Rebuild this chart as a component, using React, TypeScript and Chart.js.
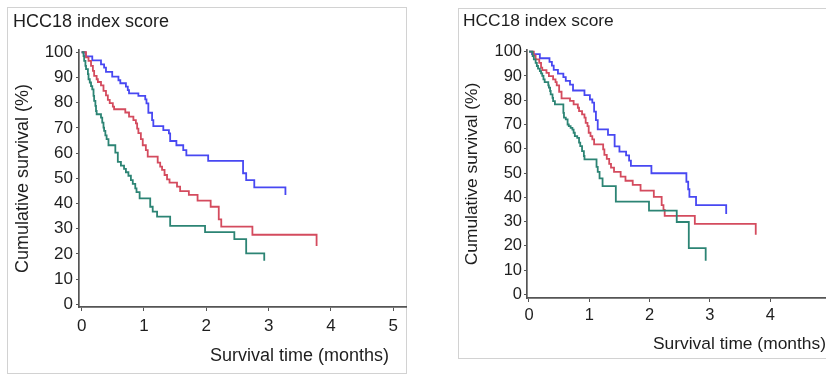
import React, { useEffect, useRef } from "react";
import { Chart, registerables } from "chart.js";

Chart.register(...registerables);

// ---------- text ----------
const panelTitle = "HCC18 index score";
const yAxisTitle = "Cumulative survival (%)";
const xAxisTitle = "Survival time (months)";

// ---------- ticks ----------
const yTickValues = [0, 10, 20, 30, 40, 50, 60, 70, 80, 90, 100];
const leftXTickValues = [0, 1, 2, 3, 4, 5];
const rightXTickValues = [0, 1, 2, 3, 4];

// ---------- colours ----------
const blueColor = "#4848f2";
const redColor = "#d44b5e";
const greenColor = "#2c8474";

// ---------- left panel data (months, survival %) ----------
const leftBlueTime = [0, 0.06, 0.17, 0.31, 0.36, 0.39, 0.49, 0.59, 0.62, 0.71, 0.74, 0.76, 0.91, 1.02, 1.04, 1.07, 1.13, 1.15, 1.31, 1.4, 1.42, 1.52, 1.63, 1.68, 2.03, 2.59, 2.64, 2.77, 3.27];
const leftBlueSurv = [100, 98.4, 96.8, 95.2, 93.9, 92.2, 90.3, 88.9, 87.7, 86.4, 85.0, 83.7, 82.7, 81.3, 79.7, 76.0, 73.1, 70.7, 69.1, 67.8, 64.8, 63.1, 61.2, 59.1, 56.9, 52.0, 49.3, 46.4, 43.4];

const leftRedTime = [0, 0.07, 0.11, 0.15, 0.18, 0.2, 0.24, 0.26, 0.31, 0.35, 0.39, 0.42, 0.45, 0.5, 0.52, 0.7, 0.76, 0.83, 0.87, 0.89, 0.91, 0.95, 0.98, 1.03, 1.06, 1.22, 1.26, 1.29, 1.33, 1.37, 1.41, 1.53, 1.58, 1.72, 1.86, 2.07, 2.2, 2.24, 2.74, 3.77];
const leftRedSurv = [100, 98.0, 96.6, 94.6, 92.6, 90.6, 89.3, 88.2, 86.9, 84.7, 82.9, 81.1, 79.8, 78.4, 77.4, 76.1, 74.5, 73.1, 71.8, 69.7, 67.9, 65.5, 63.1, 61.2, 58.6, 56.2, 54.6, 53.3, 51.3, 49.6, 48.3, 46.7, 44.9, 43.4, 41.1, 38.7, 33.7, 30.8, 27.6, 23.1];

const leftGreenTime = [0, 0.03, 0.04, 0.06, 0.07, 0.1, 0.11, 0.13, 0.15, 0.17, 0.19, 0.2, 0.22, 0.23, 0.24, 0.31, 0.33, 0.35, 0.36, 0.38, 0.4, 0.43, 0.54, 0.58, 0.63, 0.68, 0.71, 0.75, 0.79, 0.82, 0.86, 0.88, 0.93, 1.1, 1.14, 1.21, 1.42, 1.98, 2.45, 2.64, 2.93];
const leftGreenSurv = [100, 98.5, 96.6, 94.6, 93.3, 91.3, 89.3, 88.0, 86.6, 85.3, 82.7, 80.7, 78.7, 76.7, 75.4, 74.1, 72.1, 70.1, 68.8, 67.0, 65.5, 63.1, 60.2, 56.5, 55.0, 53.7, 52.4, 51.0, 49.3, 47.8, 46.0, 44.5, 42.0, 38.7, 36.8, 34.8, 31.1, 28.6, 25.9, 20.2, 17.3];

// ---------- right panel data (months, survival %) ----------
const rightBlueTime = [0, 0.05, 0.18, 0.34, 0.38, 0.41, 0.48, 0.57, 0.61, 0.68, 0.73, 0.92, 1.01, 1.05, 1.08, 1.11, 1.14, 1.31, 1.42, 1.5, 1.61, 1.66, 1.69, 2.03, 2.61, 2.64, 2.66, 2.77, 3.27];
const rightBlueSurv = [100, 99.0, 97.3, 95.8, 94.3, 92.5, 91.0, 89.5, 88.0, 86.4, 84.0, 82.1, 80.3, 79.0, 75.3, 71.8, 68.0, 65.7, 61.0, 58.8, 57.3, 55.1, 52.9, 49.9, 46.4, 43.3, 40.2, 36.8, 33.1];

const rightRedTime = [0, 0.08, 0.11, 0.17, 0.2, 0.22, 0.29, 0.33, 0.4, 0.44, 0.46, 0.5, 0.54, 0.68, 0.74, 0.81, 0.83, 0.88, 0.92, 0.94, 0.97, 0.99, 1.02, 1.05, 1.08, 1.23, 1.25, 1.29, 1.33, 1.36, 1.41, 1.52, 1.6, 1.72, 1.85, 2.07, 2.2, 2.23, 2.25, 2.75, 3.76];
const rightRedSurv = [100, 98.5, 96.8, 95.4, 93.4, 92.4, 91.3, 89.9, 88.6, 87.5, 86.1, 83.5, 80.8, 79.7, 78.3, 76.9, 75.5, 74.2, 72.8, 70.7, 69.3, 66.6, 65.2, 63.9, 61.8, 59.7, 57.5, 55.8, 53.8, 52.2, 50.5, 48.5, 46.8, 45.1, 42.7, 40.2, 36.8, 34.8, 32.3, 29.0, 24.6];

const rightGreenTime = [0, 0.06, 0.08, 0.11, 0.13, 0.15, 0.18, 0.2, 0.22, 0.24, 0.26, 0.32, 0.33, 0.35, 0.36, 0.39, 0.4, 0.43, 0.57, 0.58, 0.61, 0.64, 0.66, 0.69, 0.72, 0.74, 0.76, 0.8, 0.83, 0.85, 0.88, 0.91, 0.92, 1.12, 1.14, 1.17, 1.22, 1.44, 1.99, 2.45, 2.65, 2.93];
const rightGreenSurv = [100, 98.2, 96.8, 95.4, 94.1, 93.0, 92.0, 91.1, 90.0, 88.6, 87.5, 86.1, 85.2, 83.8, 82.4, 81.0, 79.6, 78.3, 74.8, 72.8, 72.1, 70.0, 69.3, 68.6, 67.9, 66.6, 65.2, 64.5, 62.5, 61.1, 59.0, 57.0, 55.6, 52.5, 50.5, 47.8, 44.6, 38.2, 34.5, 29.8, 19.0, 13.8];

const FONT = "'Liberation Sans', Arial, Helvetica, sans-serif";
const TEXT = "#1e1e1e";
const AXIS = "#555555";

type Series = { time: number[]; surv: number[]; color: string };

type PanelSpec = {
  canvasLeft: number;
  canvasWidth: number;
  padLeft: number;
  padRight: number;
  padTop: number;
  yScaleWidth: number;
  xScaleHeight: number;
  xMin: number;
  xMax: number;
  yMin: number;
  yMax: number;
  xTicks: number[];
  tickFont: number;
  titleFont: number;
  yTitlePad: number;
  xTickPad: number;
  yTickPad: number;
  series: Series[];
};

function KMChart({ spec }: { spec: PanelSpec }) {
  const ref = useRef<HTMLCanvasElement | null>(null);
  useEffect(() => {
    if (!ref.current) return;
    const chart = new Chart(ref.current, {
      type: "line",
      data: {
        datasets: spec.series.map((s) => ({
          data: s.time.map((t, i) => ({ x: t, y: s.surv[i] })),
          borderColor: s.color,
          borderWidth: 1.8,
          stepped: "before" as const,
          pointRadius: 0,
          fill: false,
          tension: 0,
        })),
      },
      options: {
        animation: false,
        responsive: false,
        maintainAspectRatio: false,
        events: [],
        layout: {
          padding: { left: spec.padLeft, right: spec.padRight, top: spec.padTop, bottom: 0 },
        },
        plugins: {
          legend: { display: false },
          title: { display: false },
          tooltip: { enabled: false },
        },
        scales: {
          x: {
            type: "linear",
            min: spec.xMin,
            max: spec.xMax,
            afterBuildTicks: (scale: any) => {
              scale.ticks = spec.xTicks.map((v) => ({ value: v }));
            },
            afterFit: (scale: any) => {
              scale.height = spec.xScaleHeight;
            },
            ticks: {
              autoSkip: false,
              maxRotation: 0,
              color: TEXT,
              padding: spec.xTickPad,
              font: { family: FONT, size: spec.tickFont },
            },
            grid: {
              drawOnChartArea: false,
              drawTicks: true,
              tickLength: 4,
              color: AXIS,
              lineWidth: 1,
            },
            border: { display: true, color: AXIS, width: 1.7 },
          },
          y: {
            type: "linear",
            min: spec.yMin,
            max: spec.yMax,
            afterBuildTicks: (scale: any) => {
              scale.ticks = yTickValues.map((v) => ({ value: v }));
            },
            afterFit: (scale: any) => {
              scale.width = spec.yScaleWidth;
            },
            ticks: {
              autoSkip: false,
              color: TEXT,
              padding: spec.yTickPad,
              font: { family: FONT, size: spec.tickFont },
            },
            grid: {
              drawOnChartArea: false,
              drawTicks: true,
              tickLength: 3,
              color: AXIS,
              lineWidth: 1,
            },
            border: { display: true, color: AXIS, width: 1.7 },
            title: {
              display: true,
              text: yAxisTitle,
              color: TEXT,
              font: { family: FONT, size: spec.titleFont },
              padding: { top: spec.yTitlePad, bottom: 0 },
            },
          },
        },
      },
    } as any);
    return () => chart.destroy();
  }, [spec]);
  return (
    <canvas
      ref={ref}
      width={spec.canvasWidth}
      height={374}
      style={{ position: "absolute", left: spec.canvasLeft, top: 0, width: spec.canvasWidth, height: 374 }}
    />
  );
}

const leftSpec: PanelSpec = {
  canvasLeft: 0,
  canvasWidth: 416,
  padLeft: 0,
  padRight: 10,
  padTop: 50,
  yScaleWidth: 79,
  xScaleHeight: 67,
  xMin: -0.043,
  xMax: 5.205,
  yMin: -1.07,
  yMax: 100.9,
  xTicks: leftXTickValues,
  tickFont: 17,
  titleFont: 18,
  yTitlePad: 12,
  xTickPad: 5,
  yTickPad: 3,
  series: [
    { time: leftGreenTime, surv: leftGreenSurv, color: greenColor },
    { time: leftRedTime, surv: leftRedSurv, color: redColor },
    { time: leftBlueTime, surv: leftBlueSurv, color: blueColor },
  ],
};

const rightSpec: PanelSpec = {
  canvasLeft: 450,
  canvasWidth: 376,
  padLeft: 0,
  padRight: 0,
  padTop: 50,
  yScaleWidth: 77,
  xScaleHeight: 76,
  xMin: -0.033,
  xMax: 4.925,
  yMin: -1.52,
  yMax: 100.7,
  xTicks: rightXTickValues,
  tickFont: 16.5,
  titleFont: 17.4,
  yTitlePad: 11.5,
  xTickPad: 4,
  yTickPad: 2,
  series: [
    { time: rightGreenTime, surv: rightGreenSurv, color: greenColor },
    { time: rightRedTime, surv: rightRedSurv, color: redColor },
    { time: rightBlueTime, surv: rightBlueSurv, color: blueColor },
  ],
};

function Label({ text, left, top, size }: { text: string; left: number; top: number; size: number }) {
  return (
    <div
      style={{
        position: "absolute",
        left,
        top,
        fontFamily: FONT,
        fontSize: size,
        lineHeight: `${size}px`,
        color: TEXT,
        whiteSpace: "nowrap",
      }}
    >
      {text}
    </div>
  );
}

export default function App() {
  return (
    <div
      style={{
        position: "fixed",
        left: 0,
        top: 0,
        width: 826,
        height: 374,
        overflow: "hidden",
        background: "#ffffff",
      }}
    >
      <div
        style={{
          position: "absolute",
          left: 7,
          top: 7,
          width: 400,
          height: 367,
          border: "1px solid #d2d2d2",
          boxSizing: "border-box",
        }}
      />
      <div
        style={{
          position: "absolute",
          left: 458,
          top: 8,
          width: 400,
          height: 351,
          border: "1px solid #d2d2d2",
          boxSizing: "border-box",
        }}
      />
      <KMChart spec={leftSpec} />
      <KMChart spec={rightSpec} />
      <Label text={panelTitle} left={13} top={12} size={18} />
      <Label text={xAxisTitle} left={210} top={346} size={18} />
      <Label text={panelTitle} left={463} top={12} size={17.4} />
      <Label text={xAxisTitle} left={653} top={334.5} size={17.4} />
    </div>
  );
}
